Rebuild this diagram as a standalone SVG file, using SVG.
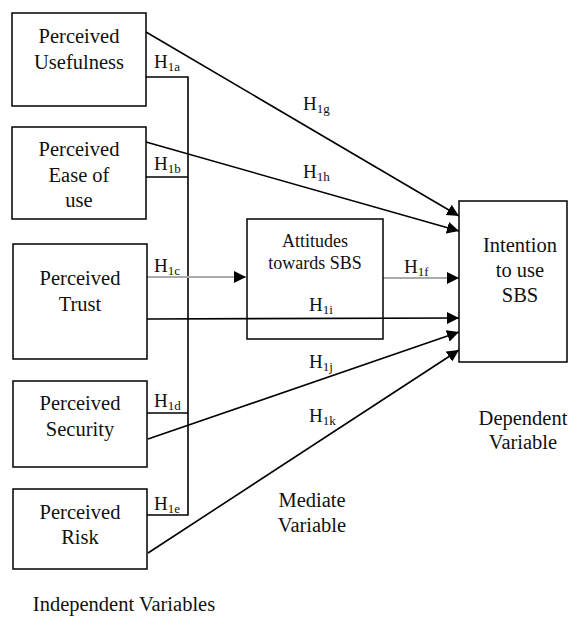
<svg xmlns="http://www.w3.org/2000/svg" width="570" height="617" viewBox="0 0 570 617">
<style>
.box{fill:#fff;stroke:#000;stroke-width:1.5}
.t{font-family:"Liberation Serif","Times New Roman",serif;font-size:20.5px;fill:#111;text-anchor:middle}
.s{font-family:"Liberation Serif","Times New Roman",serif;font-size:18px;fill:#111;text-anchor:middle}
.h{font-family:"Liberation Serif","Times New Roman",serif;font-size:19px;fill:#111}
.sub{font-size:13px}
.ln{fill:none;stroke:#000;stroke-width:1.6}
.gr{fill:none;stroke:#aaa;stroke-width:2}
</style>
<defs>
<marker id="ah" viewBox="0 0 12 12" refX="12" refY="6" markerWidth="12" markerHeight="12" markerUnits="userSpaceOnUse" orient="auto">
<path d="M0,0 L12,6 L0,12 Z" fill="#000"/>
</marker>
</defs>
<rect width="570" height="617" fill="#fff"/>
<g id="connectors">
<polyline class="ln" points="146,77 188,77 188,515 147,515"/>
<line class="ln" x1="146" y1="177" x2="188" y2="177"/>
<line class="ln" x1="147" y1="413" x2="188" y2="413"/>
<line class="gr" x1="147" y1="277" x2="246" y2="277" marker-end="url(#ah)"/>
<line class="gr" x1="383" y1="278" x2="459" y2="278" marker-end="url(#ah)"/>
<line class="ln" x1="146" y1="32" x2="459" y2="216" marker-end="url(#ah)"/>
<line class="ln" x1="146" y1="142" x2="459" y2="231" marker-end="url(#ah)"/>
<line class="ln" x1="147" y1="319" x2="459" y2="318" marker-end="url(#ah)"/>
<line class="ln" x1="148" y1="439" x2="459" y2="332" marker-end="url(#ah)"/>
<line class="ln" x1="148" y1="553" x2="459" y2="350" marker-end="url(#ah)"/>
<text class="h" x="154" y="68">H<tspan class="sub" dy="3">1a</tspan></text>
<text class="h" x="154" y="170">H<tspan class="sub" dy="3">1b</tspan></text>
<text class="h" x="154" y="272">H<tspan class="sub" dy="3">1c</tspan></text>
<text class="h" x="154" y="407">H<tspan class="sub" dy="3">1d</tspan></text>
<text class="h" x="154" y="510">H<tspan class="sub" dy="3">1e</tspan></text>
<text class="h" x="303" y="110">H<tspan class="sub" dy="3">1g</tspan></text>
<text class="h" x="303" y="178">H<tspan class="sub" dy="3">1h</tspan></text>
<text class="h" x="404" y="273">H<tspan class="sub" dy="3">1f</tspan></text>
<text class="h" x="309" y="311">H<tspan class="sub" dy="3">1i</tspan></text>
<text class="h" x="309" y="368">H<tspan class="sub" dy="3">1j</tspan></text>
<text class="h" x="309" y="422">H<tspan class="sub" dy="3">1k</tspan></text>
</g>
<g id="usefulness">
<rect class="box" x="12" y="13" width="134" height="93"/>
<text class="t" x="79" y="43">Perceived</text>
<text class="t" x="79" y="69">Usefulness</text>
</g>
<g id="ease">
<rect class="box" x="12" y="127" width="134" height="92"/>
<text class="t" x="79" y="156">Perceived</text>
<text class="t" x="79" y="182">Ease of</text>
<text class="t" x="79" y="207">use</text>
</g>
<g id="trust">
<rect class="box" x="13" y="244" width="134" height="115"/>
<text class="t" x="80" y="285">Perceived</text>
<text class="t" x="80" y="311">Trust</text>
</g>
<g id="security">
<rect class="box" x="13" y="381" width="134" height="86"/>
<text class="t" x="80" y="410">Perceived</text>
<text class="t" x="80" y="436">Security</text>
</g>
<g id="risk">
<rect class="box" x="13" y="489" width="134" height="80"/>
<text class="t" x="80" y="519">Perceived</text>
<text class="t" x="80" y="544">Risk</text>
</g>
<g id="attitudes">
<rect class="box" x="247" y="219" width="136" height="120" fill="none" style="fill:none"/>
<text class="s" x="315" y="247">Attitudes</text>
<text class="s" x="315" y="269">towards SBS</text>
</g>
<g id="intention">
<rect class="box" x="459" y="201" width="108" height="161"/>
<text class="t" x="520" y="252">Intention</text>
<text class="t" x="520" y="277">to use</text>
<text class="t" x="520" y="302">SBS</text>
</g>
<g id="labels">
<text class="t" x="523" y="425">Dependent</text>
<text class="t" x="523" y="449">Variable</text>
<text class="t" x="312" y="507">Mediate</text>
<text class="t" x="312" y="532">Variable</text>
<text class="t" x="124" y="611">Independent Variables</text>
</g>
</svg>
